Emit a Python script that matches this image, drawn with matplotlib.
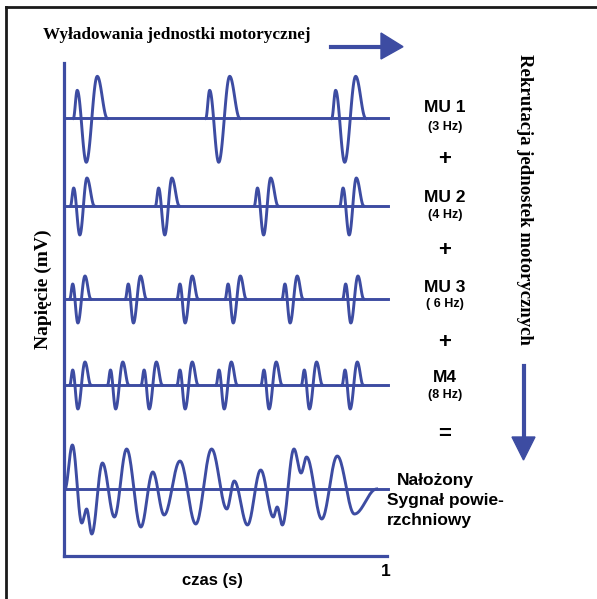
import numpy as np
import matplotlib
matplotlib.use("Agg")
import matplotlib.pyplot as plt
from matplotlib.lines import Line2D
from matplotlib.patches import Polygon

## Dane: czasy wyładowań (s) i kształty potencjałów jednostek (offset s, amplituda)
mu1_czasy = [0.029, 0.439, 0.829]
mu2_czasy = [0.020, 0.283, 0.589, 0.854]
mu3_czasy = [0.018, 0.190, 0.350, 0.499, 0.675, 0.863]
mu4_czasy = [0.018, 0.135, 0.239, 0.350, 0.471, 0.610, 0.735, 0.861]

mu1_ksztalt_t = [0.0, 0.012, 0.040, 0.074, 0.105]
mu1_ksztalt_v = [0.0, 2.8, -4.4, 4.2, 0.0]
mu2_ksztalt_t = [0.0, 0.010, 0.029, 0.051, 0.074]
mu2_ksztalt_v = [0.0, 1.8, -2.9, 2.8, 0.0]
mu3_ksztalt_t = [0.0, 0.009, 0.025, 0.047, 0.065]
mu3_ksztalt_v = [0.0, 1.5, -2.4, 2.3, 0.0]
mu4_ksztalt_t = [0.0, 0.009, 0.025, 0.047, 0.065]
mu4_ksztalt_v = [0.0, 1.5, -2.4, 2.3, 0.0]

# sygnał nałożony - ekstrema odczytane kolejno
suma_t = [0.003, 0.026, 0.055, 0.070, 0.086, 0.119, 0.156, 0.194, 0.238, 0.275,
          0.310, 0.359, 0.408, 0.457, 0.504, 0.527, 0.568, 0.609, 0.648, 0.660,
          0.676, 0.712, 0.734, 0.751, 0.798, 0.846, 0.899, 0.968]
suma_v = [0.0, 4.4, -3.4, -2.0, -4.5, 2.6, -2.8, 4.0, -3.8, 1.7,
          -2.6, 2.8, -3.5, 4.0, -2.0, 0.8, -3.6, 1.9, -2.8, -1.8,
          -3.6, 4.0, 1.6, 3.2, -3.0, 3.3, -2.5, 0.0]

etykiety = ["MU 1", "MU 2", "MU 3", "M4"]
czestotliwosci = ["(3 Hz)", "(4 Hz)", "( 6 Hz)", "(8 Hz)"]

niebieski = "#3d4ca2"
W, H = 597, 599
lw = 2.1


def fx(x):
    return x / W


def fy(y):
    return 1 - y / H


def gladko(ts, vs, n=24):
    # łagodne przejście (kosinusowe) między kolejnymi ekstremami
    xs, ys = [], []
    for i in range(len(ts) - 1):
        s = np.linspace(0, 1, n)
        xs.append(ts[i] + (ts[i + 1] - ts[i]) * s)
        ys.append(vs[i] + (vs[i + 1] - vs[i]) * (1 - np.cos(np.pi * s)) / 2)
    return np.concatenate(xs), np.concatenate(ys)


fig = plt.figure(figsize=(W / 100, H / 100), dpi=100)
ax = fig.add_axes([fx(64), fy(556), (387 - 64) / W, (556 - 63) / H])
ax.set_xlim(0, 1)
ax.set_ylim(0, 49.3)

poziomy = [43.77, 35.0, 25.7, 17.1]
serie = [(mu1_czasy, mu1_ksztalt_t, mu1_ksztalt_v),
         (mu2_czasy, mu2_ksztalt_t, mu2_ksztalt_v),
         (mu3_czasy, mu3_ksztalt_t, mu3_ksztalt_v),
         (mu4_czasy, mu4_ksztalt_t, mu4_ksztalt_v)]

for y0, (czasy, kt, kv) in zip(poziomy, serie):
    ax.plot([0, 1.003], [y0, y0], color=niebieski, lw=lw, clip_on=False)
    for t0 in czasy:
        x, y = gladko([t0 + k for k in kt], kv)
        ax.plot(x, y + y0, color=niebieski, lw=lw, clip_on=False)

# sygnał powierzchniowy
y_suma = 6.7
ax.plot([0, 1.003], [y_suma, y_suma], color=niebieski, lw=lw, clip_on=False)
x, y = gladko(suma_t, suma_v)
ax.plot(x, y + y_suma, color=niebieski, lw=lw, clip_on=False)

for s in ["top", "right"]:
    ax.spines[s].set_visible(False)
for s in ["left", "bottom"]:
    ax.spines[s].set_color(niebieski)
    ax.spines[s].set_linewidth(2.3)
ax.set_xticks([])
ax.set_yticks([])
ax.patch.set_alpha(0)

serif = dict(family="Liberation Serif", weight="bold")
sans = dict(family="Liberation Sans", weight="bold")

fig.text(fx(43), fy(35), "Wyładowania jednostki motorycznej", fontsize=12.3,
         ha="left", va="center", **serif)
fig.text(fx(524), fy(199), "Rekrutacja jednostek motorycznych", fontsize=13.5,
         rotation=-90, ha="center", va="center", **serif)
fig.text(fx(43), fy(289), "Napięcie (mV)", fontsize=14, rotation=90,
         ha="center", va="center", **serif)
fig.text(fx(212), fy(580), "czas (s)", fontsize=12, ha="center", va="center", **sans)
fig.text(fx(386), fy(572), "1", fontsize=12.5, ha="center", va="center", **sans)

# opisy jednostek po prawej
y_mu = [108, 197, 287, 378]
y_hz = [127, 215, 304, 395]
for e, c, ym, yh in zip(etykiety, czestotliwosci, y_mu, y_hz):
    fig.text(fx(445), fy(ym), e, fontsize=12.5, ha="center", va="center", **sans)
    fig.text(fx(445), fy(yh), c, fontsize=9, ha="center", va="center", **sans)
for yp in [159, 250, 343]:
    fig.text(fx(445), fy(yp), "+", fontsize=16, ha="center", va="center", **sans)
fig.text(fx(445), fy(434), "=", fontsize=16, ha="center", va="center", **sans)

fig.text(fx(397), fy(481), "Nałożony", fontsize=12.5, ha="left", va="center", **sans)
fig.text(fx(387), fy(500), "Sygnał powie-", fontsize=12.5, ha="left", va="center", **sans)
fig.text(fx(387), fy(520), "rzchniowy", fontsize=12.5, ha="left", va="center", **sans)

# strzałki
fig.add_artist(Line2D([fx(331), fx(383)], [fy(46.7), fy(46.7)], color=niebieski,
                      lw=3, transform=fig.transFigure))
fig.add_artist(Polygon([[fx(381), fy(33)], [fx(403), fy(46.7)], [fx(381), fy(59)]],
                       closed=True, color=niebieski, transform=fig.transFigure))
fig.add_artist(Line2D([fx(523.5), fx(523.5)], [fy(366), fy(439)], color=niebieski,
                      lw=3, transform=fig.transFigure))
fig.add_artist(Polygon([[fx(512), fy(437)], [fx(535), fy(437)], [fx(523.5), fy(460)]],
                       closed=True, color=niebieski, transform=fig.transFigure))

# ramka
fig.add_artist(Line2D([fx(5.5), fx(600)], [fy(7), fy(7)], color="#1a1a1a", lw=2,
                      transform=fig.transFigure))
fig.add_artist(Line2D([fx(6), fx(6)], [fy(7), fy(602)], color="#1a1a1a", lw=2,
                      transform=fig.transFigure))

fig.savefig("out.png", dpi=100)
